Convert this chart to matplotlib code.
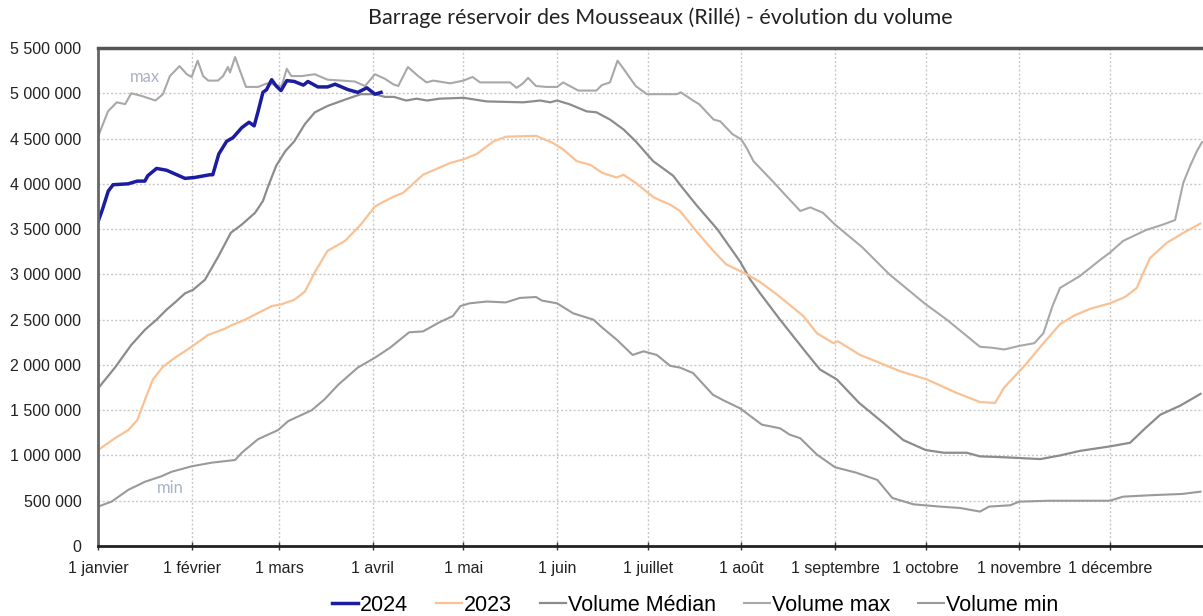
import numpy as np
import matplotlib
matplotlib.use("Agg")
import matplotlib.pyplot as plt
from matplotlib.ticker import FuncFormatter

# day of year (0 = 1 janvier, leap year) / volume in millions of m3
days_2024 = [0, 1.5, 3.4, 5, 10, 13, 15.5, 16.5, 19.4, 22.7,
             28.8, 32, 37, 38, 40, 42.6, 44.7, 47.6, 50, 51.7,
             53, 54.6, 55.8, 57.5, 59, 60.6, 62.5, 65, 68, 69.5,
             72.8, 76, 78.5, 82.8, 86, 89, 91.7, 93.7]
vol_2024 = [3.58, 3.72, 3.92, 3.99, 4.00, 4.03, 4.03, 4.09, 4.17, 4.15,
            4.06, 4.07, 4.10, 4.10, 4.33, 4.47, 4.51, 4.62, 4.68, 4.64,
            4.80, 5.01, 5.04, 5.15, 5.08, 5.03, 5.14, 5.13, 5.09, 5.13,
            5.07, 5.07, 5.10, 5.04, 5.01, 5.06, 4.99, 5.01]

days_2023 = [0, 5.6, 10, 13, 15.6, 18.2, 21.5, 25.5, 31, 36.4,
             42, 44.3, 48.7, 54, 57.5, 60.8, 65, 68.5, 71.9, 76,
             81.8, 87, 91.7, 95, 98, 101, 107.6, 116.6, 121, 125.4,
             131, 135, 145, 150.7, 154, 158.5, 163, 167, 171.7, 174,
             178, 184, 189.4, 192.7, 198, 203.7, 208, 214.8, 219, 224.7,
             233.5, 238, 243.5, 245, 252.3, 259, 265.6, 274.4, 284.3, 292,
             297, 300, 307, 312, 318.5, 323.5, 328.5, 335, 340, 343.9,
             346.1, 348.3, 353.9, 359.4, 364.9]
vol_2023 = [1.06, 1.19, 1.28, 1.39, 1.62, 1.84, 1.98, 2.08, 2.20, 2.33,
            2.40, 2.44, 2.50, 2.59, 2.65, 2.67, 2.72, 2.81, 3.03, 3.26,
            3.37, 3.55, 3.75, 3.81, 3.86, 3.90, 4.10, 4.23, 4.27, 4.33,
            4.47, 4.52, 4.53, 4.45, 4.38, 4.25, 4.21, 4.12, 4.07, 4.10,
            4.01, 3.85, 3.77, 3.70, 3.48, 3.26, 3.11, 3.00, 2.92, 2.78,
            2.54, 2.35, 2.24, 2.26, 2.11, 2.02, 1.93, 1.84, 1.69, 1.59,
            1.58, 1.75, 2.00, 2.20, 2.45, 2.55, 2.62, 2.68, 2.75, 2.85,
            3.02, 3.18, 3.35, 3.46, 3.56]

days_med = [0, 5.6, 11, 15.6, 19.4, 22.7, 25.5, 28.8, 31.5, 35.4,
            39.7, 44, 47.6, 52, 54.6, 56.3, 59, 62, 65, 68.5,
            71.8, 76, 81.8, 87, 91.7, 95, 98, 102, 105.5, 109,
            113, 121, 128.7, 140.8, 146.4, 149.7, 152, 156, 161.8, 165,
            169.5, 174, 178, 183.8, 190.4, 192.7, 198, 205, 212.6, 216,
            219, 225.8, 234.6, 239, 244.6, 252, 260, 266.6, 274, 280,
            287.6, 292, 300, 306, 312, 318.5, 325, 335, 341.7, 346.7,
            351.7, 358.3, 365]
vol_med = [1.74, 1.97, 2.22, 2.39, 2.50, 2.61, 2.69, 2.79, 2.83, 2.94,
           3.19, 3.46, 3.55, 3.68, 3.81, 3.97, 4.20, 4.36, 4.47, 4.66,
           4.79, 4.86, 4.93, 4.99, 4.99, 4.96, 4.96, 4.92, 4.94, 4.92,
           4.94, 4.95, 4.91, 4.90, 4.92, 4.90, 4.92, 4.88, 4.80, 4.79,
           4.71, 4.60, 4.47, 4.25, 4.09, 3.99, 3.77, 3.50, 3.14, 2.94,
           2.80, 2.50, 2.13, 1.95, 1.84, 1.58, 1.36, 1.17, 1.06, 1.03,
           1.03, 0.99, 0.98, 0.97, 0.96, 1.00, 1.05, 1.10, 1.14, 1.30,
           1.45, 1.55, 1.68]

days_max = [0, 3.3, 6.2, 9, 11, 14.5, 19, 21.5, 23.8, 27,
            29.4, 31, 33, 34.8, 36.5, 39.7, 41.4, 43, 43.7, 45.4,
            47, 49, 53, 56, 60.8, 62.5, 64, 67.4, 71.8, 76,
            80.7, 85, 88.4, 91.7, 95, 97.7, 99.4, 102.6, 106, 108.8,
            111, 116.6, 121, 124, 126.5, 136.4, 138.6, 140.7, 142.4, 145,
            148.5, 152, 154, 159, 165, 166.8, 169.5, 172, 174, 178,
            181.7, 187, 191.6, 193, 197, 199, 203.8, 206, 210, 213,
            215, 217, 223.6, 228, 232.5, 235.8, 240, 244, 253, 262,
            270, 274, 276.5, 281, 287.6, 292, 296, 300, 305, 310,
            313, 316, 318.5, 325, 331.8, 335, 339.4, 347, 352.6, 356.6,
            359.3, 361.6, 363.8, 365.5]
vol_max = [4.52, 4.80, 4.90, 4.88, 5.00, 4.97, 4.92, 4.99, 5.19, 5.30,
           5.21, 5.18, 5.36, 5.19, 5.14, 5.14, 5.19, 5.29, 5.23, 5.40,
           5.25, 5.07, 5.07, 5.11, 5.08, 5.27, 5.19, 5.19, 5.21, 5.15,
           5.14, 5.13, 5.08, 5.21, 5.16, 5.10, 5.08, 5.29, 5.19, 5.12,
           5.14, 5.11, 5.14, 5.18, 5.12, 5.12, 5.06, 5.11, 5.17, 5.08,
           5.07, 5.07, 5.12, 5.03, 5.03, 5.09, 5.12, 5.36, 5.27, 5.08,
           4.99, 4.99, 4.99, 5.01, 4.92, 4.88, 4.71, 4.69, 4.55, 4.49,
           4.38, 4.25, 4.02, 3.86, 3.70, 3.74, 3.68, 3.55, 3.30, 3.00,
           2.78, 2.67, 2.61, 2.50, 2.32, 2.20, 2.19, 2.17, 2.21, 2.24,
           2.35, 2.65, 2.85, 2.98, 3.16, 3.24, 3.37, 3.49, 3.55, 3.60,
           4.01, 4.20, 4.36, 4.46]

days_min = [0, 4.5, 10, 15.6, 21, 24.4, 31, 37.6, 45.4, 47.6,
            53, 59.6, 63, 70.8, 75, 79.5, 86, 91.7, 96.7, 103,
            107.6, 113, 117.5, 120, 123, 128.7, 135, 139.7, 145, 147,
            152, 157.3, 164, 167, 171.7, 177, 180.6, 185, 189.4, 192.7,
            197, 203.6, 207, 212.6, 219.8, 225.8, 229, 232.5, 238, 244,
            251, 258, 263, 270, 278.8, 285.4, 292, 295, 302, 305,
            315, 326, 335, 339.4, 348, 359, 365]
vol_min = [0.435, 0.49, 0.62, 0.71, 0.77, 0.82, 0.88, 0.92, 0.95, 1.03,
           1.18, 1.28, 1.38, 1.50, 1.62, 1.78, 1.97, 2.08, 2.19, 2.36,
           2.37, 2.47, 2.54, 2.65, 2.68, 2.70, 2.69, 2.74, 2.75, 2.71,
           2.68, 2.57, 2.50, 2.41, 2.28, 2.11, 2.15, 2.11, 1.99, 1.97,
           1.91, 1.67, 1.61, 1.52, 1.34, 1.30, 1.23, 1.19, 1.01, 0.87,
           0.81, 0.73, 0.53, 0.46, 0.435, 0.42, 0.38, 0.435, 0.45, 0.49,
           0.50, 0.50, 0.50, 0.545, 0.56, 0.575, 0.60]

month_days = [0, 31, 60, 91, 121, 152, 182, 213, 244, 274, 305, 335]
month_labels = ["1 janvier", "1 février", "1 mars", "1 avril", "1 mai", "1 juin",
                "1 juillet", "1 août", "1 septembre", "1 octobre", "1 novembre",
                "1 décembre"]

fig = plt.figure(figsize=(12.03, 6.16), dpi=100)
ax = fig.add_axes([98 / 1203, 70 / 616, 1105.5 / 1203, 498 / 616])

M = 1e6
l_med, = ax.plot(days_med, np.array(vol_med) * M, color="#8c8c8c", lw=1.6, label="Volume Médian")
l_max, = ax.plot(days_max, np.array(vol_max) * M, color="#a8a8a8", lw=1.5, label="Volume max")
l_min, = ax.plot(days_min, np.array(vol_min) * M, color="#9a9a9a", lw=1.5, label="Volume min")
l_23, = ax.plot(days_2023, np.array(vol_2023) * M, color="#f9c194", lw=1.6, label="2023")
l_24, = ax.plot(days_2024, np.array(vol_2024) * M, color="#1c1ca0", lw=2.5, label="2024")

ax.text(15.6, 5.18 * M, "max", color="#aab4c4", fontsize=12, family="Lato", ha="center", va="center")
ax.text(23.8, 0.64 * M, "min", color="#aab4c4", fontsize=12, family="Lato", ha="center", va="center")

ax.set_xlim(0, 366)
ax.set_ylim(0, 5.5 * M)
ax.set_yticks(np.arange(0, 5.5 * M + 1, 0.5 * M))
ax.yaxis.set_major_formatter(FuncFormatter(lambda v, p: f"{int(round(v)):,}".replace(",", " ")))
ax.set_xticks(month_days)
ax.set_xticklabels(month_labels)

for lab in ax.get_xticklabels() + ax.get_yticklabels():
    lab.set_family("Liberation Sans")
    lab.set_fontsize(11.5)
    lab.set_color("#222222")

ax.tick_params(axis="y", length=0, pad=12)
ax.tick_params(axis="x", direction="inout", length=6, width=1, pad=8, color="#333333")

ax.grid(True, color="#c8c8c8", linestyle=(0, (1.5, 1.5)), linewidth=1)
ax.set_axisbelow(True)

ax.spines["right"].set_visible(False)
ax.spines["top"].set_color("#555555")
ax.spines["top"].set_linewidth(2.5)
ax.spines["left"].set_color("#666666")
ax.spines["left"].set_linewidth(2)
ax.spines["bottom"].set_color("#222222")
ax.spines["bottom"].set_linewidth(2)

fig.text(0.549, 0.971, "Barrage réservoir des Mousseaux (Rillé) - évolution du volume",
         ha="center", va="center", fontsize=15.5, family="Lato", color="#222222")

fig.legend(handles=[l_24, l_23, l_med, l_max, l_min],
           loc="center", bbox_to_anchor=(0.578, 0.017), ncol=5, frameon=False,
           prop={"family": ["Liberation Sans Narrow", "Liberation Sans"], "size": 15.5},
           handlelength=1.2, handletextpad=0.1, columnspacing=1.3)

plt.savefig("out.png", dpi=100)
